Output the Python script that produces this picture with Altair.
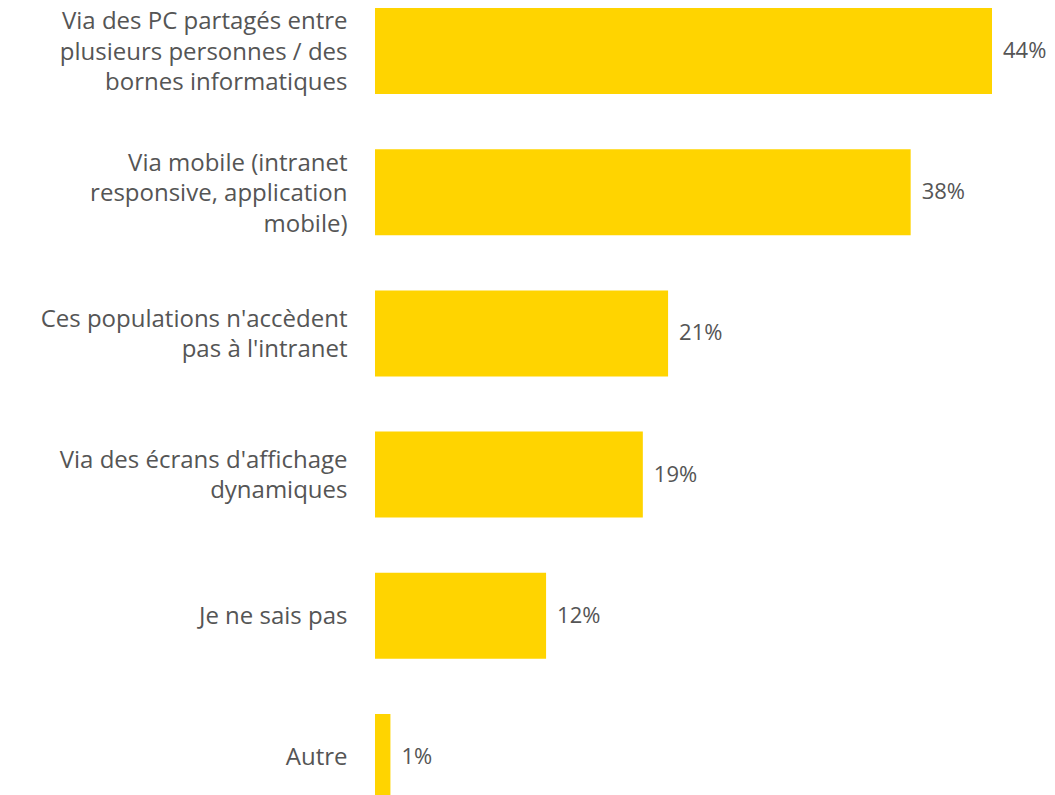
import altair as alt
import pandas as pd

categories = [
    "Via des PC partagés entre|plusieurs personnes / des|bornes informatiques",
    "Via mobile (intranet|responsive, application|mobile)",
    "Ces populations n'accèdent|pas à l'intranet",
    "Via des écrans d'affichage|dynamiques",
    "Je ne sais pas",
    "Autre",
]
values = [44, 38.2, 20.9, 19.1, 12.2, 1.1]
value_labels = ["44%", "38%", "21%", "19%", "12%", "1%"]

df = pd.DataFrame({"cat": categories, "val": values, "lab": value_labels})

FONT = "Open Sans"
GREY = "#555555"
YELLOW = "#FFD400"
LH = 30.5

n_lines = "length(split(datum.value, '|'))"

y = alt.Y(
    "cat:N",
    sort=categories,
    title=None,
    scale=alt.Scale(paddingInner=0.391, paddingOuter=0),
    axis=alt.Axis(
        labelExpr="split(datum.label, '|')",
        labelFont=FONT,
        labelFontSize=24,
        labelColor=GREY,
        labelLineHeight=LH,
        labelPadding=28,
        labelLimit=400,
        ticks=False,
        domain=False,
        grid=False,
        minExtent=367,
        maxExtent=367,
        labelAlign="right",
        labelBaseline="middle",
        labelOffset={
            "condition": [
                {"test": f"{n_lines} == 3", "value": -LH + 2},
                {"test": f"{n_lines} == 2", "value": -LH / 2 + 1.5},
            ],
            "value": 1,
        },
    ),
)
x = alt.X("val:Q", title=None, axis=None, scale=alt.Scale(domain=[0, 44], nice=False, zero=True))

bars = alt.Chart(df).mark_bar(color=YELLOW).encode(x=x, y=y)
text = alt.Chart(df).mark_text(
    align="left", baseline="middle", dx=11, font=FONT, fontSize=22, color=GREY
).encode(x=x, y=y, text="lab:N")

chart = (
    (bars + text)
    .properties(width=617, height=792, padding=0)
    .configure_view(stroke=None)
)

chart.save("out.html", embed_options={"renderer": "svg", "actions": False})
